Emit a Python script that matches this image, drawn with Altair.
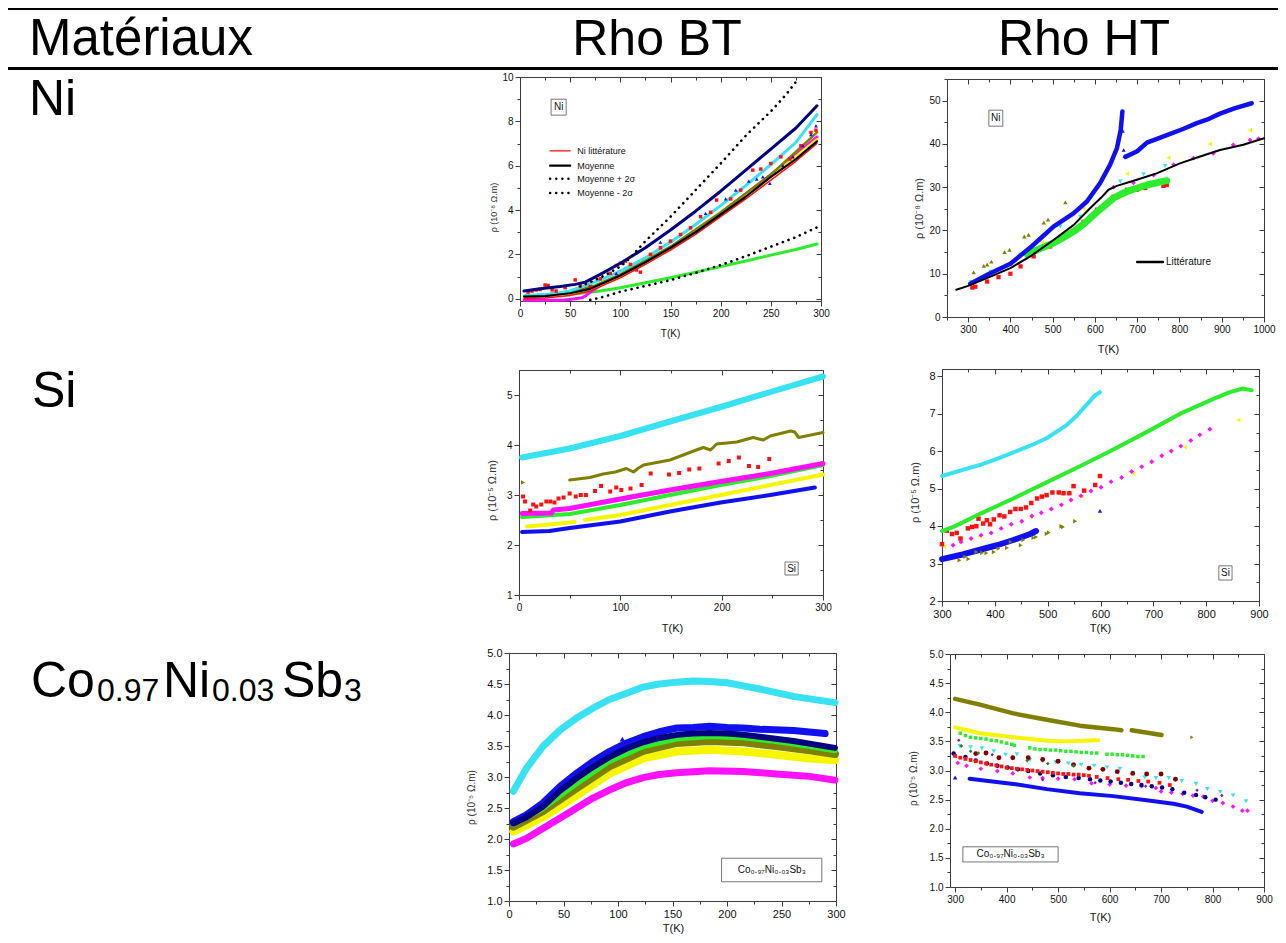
import altair as alt
import pandas as pd

# ===================== values =====================
HEADERS = ["Matériaux", "Rho BT", "Rho HT"]
ROW_LABELS = ["Ni", "Si"]
CO_PARTS = ["Co", "0.97", "Ni", "0.03", "Sb", "3"]
X_TITLE = "T(K)"
Y_TITLE_8 = "ρ (10⁻⁸ Ω.m)"
Y_TITLE_5 = "ρ (10⁻⁵ Ω.m)"
NI_BT_LEGEND = ["Ni littérature", "Moyenne", "Moyenne + 2σ", "Moyenne - 2σ"]
NI_HT_LEGEND = "Littérature"
CO_TAG = "Co₀.₉₇Ni₀.₀₃Sb₃"

# ---- Ni, Rho BT ----
NIBT_GREEN_T = [45, 60, 80, 100, 125, 150, 175, 200, 225, 250, 275, 296]
NIBT_GREEN_R = [0.2, 0.25, 0.35, 0.5, 0.72, 0.95, 1.2, 1.45, 1.7, 1.97, 2.22, 2.47]
NIBT_MAG_T = [4, 15, 30, 45, 55, 62, 66, 70, 80, 100, 150, 200, 250, 296]
NIBT_MAG_R = [-0.07, -0.07, -0.07, -0.05, 0.0, 0.05, 0.15, 0.3, 0.6, 1.05, 2.3, 3.85, 5.6, 7.3]
NIBT_YO_T = [4, 50, 75, 100, 150, 200, 250, 296]
NIBT_YEL_R = [0.05, 0.25, 0.5, 1.0, 2.25, 3.8, 5.5, 7.2]
NIBT_OLIVE_R = [0.12, 0.3, 0.6, 1.1, 2.35, 3.9, 5.6, 7.5]
NIBT_CYAN_T = [5, 30, 50, 65, 80, 100, 125, 150, 175, 200, 225, 250, 275, 296]
NIBT_CYAN_R = [0.15, 0.2, 0.35, 0.6, 0.85, 1.25, 1.85, 2.55, 3.35, 4.2, 5.1, 6.05, 7.05, 8.3]
NIBT_RED_T = [8, 12, 16, 20, 25, 28, 32, 36, 45, 55, 60, 70, 80, 90, 96, 100, 105, 110, 116, 120,
              130, 140, 150, 160, 170, 180, 190, 196, 210, 220, 232, 240, 250, 260, 269, 280, 290, 295]
NIBT_RED_R = [0.3, 0.35, 0.4, 0.42, 0.62, 0.6, 0.4, 0.35, 0.5, 0.85, 0.6, 0.55, 0.9, 1.15, 1.5, 1.6, 1.7, 1.55, 1.3, 1.2,
              2.0, 2.3, 2.6, 2.9, 3.2, 3.7, 3.9, 4.45, 4.5, 4.9, 5.8, 5.85, 6.1, 6.4, 6.3, 6.9, 7.5, 7.6]
NIBT_BLUE_T = [96, 140, 185, 205, 215, 228, 236, 242, 249, 262, 272, 282, 290, 295]
NIBT_BLUE_R = [1.15, 2.55, 3.85, 4.5, 4.9, 5.3, 5.4, 5.5, 5.2, 6.0, 6.4, 6.9, 7.4, 7.8]
NIBT_NAVY_T = [4, 20, 40, 55, 65, 80, 100, 125, 150, 175, 200, 225, 250, 275, 296]
NIBT_NAVY_R = [0.35, 0.45, 0.55, 0.65, 0.75, 1.1, 1.6, 2.3, 3.1, 3.95, 4.85, 5.8, 6.75, 7.7, 8.7]
NIBT_AVG_T = [4, 25, 50, 70, 85, 100, 125, 150, 175, 200, 225, 250, 275, 296]
NIBT_LIT_R = [0.0, 0.03, 0.15, 0.35, 0.65, 0.95, 1.55, 2.2, 2.9, 3.7, 4.5, 5.35, 6.2, 7.0]
NIBT_AVG_R = [0.1, 0.12, 0.25, 0.45, 0.75, 1.05, 1.65, 2.3, 3.0, 3.8, 4.6, 5.5, 6.3, 7.1]
NIBT_PLUS_T = [60, 70, 80, 90, 100, 110, 125, 150, 175, 200, 226, 250, 265, 278]
NIBT_PLUS_R = [0.55, 0.75, 0.95, 1.2, 1.45, 1.85, 2.6, 3.7, 4.9, 6.1, 7.4, 8.45, 9.2, 9.95]
NIBT_MINUS_T = [70, 80, 90, 100, 125, 150, 175, 200, 225, 250, 275, 296]
NIBT_MINUS_R = [-0.05, 0.05, 0.18, 0.32, 0.58, 0.84, 1.17, 1.52, 1.92, 2.35, 2.78, 3.22]

# ---- Ni, Rho HT ----
NIHT_RED_T = [310, 317, 345, 372, 400, 424, 455, 494, 534, 573, 605, 644, 676, 699, 719, 762, 770]
NIHT_RED_R = [6.8, 7.0, 8.2, 9.2, 10.0, 11.7, 14.0, 16.3, 19.0, 22.0, 24.8, 27.8, 29.4, 29.4, 29.8, 30.3, 30.5]
NIHT_GREEN_T = [440, 470, 502, 530, 550, 575, 597, 620, 644, 660, 676, 700, 723, 745, 770]
NIHT_GREEN_R = [14.5, 15.8, 17.1, 18.6, 19.8, 21.6, 23.6, 25.5, 27.5, 28.3, 29.0, 29.8, 30.5, 31.0, 31.5]
NIHT_CYAN_T = [307, 353, 424, 471, 518, 565, 660, 715, 766]
NIHT_CYAN_R = [8.1, 10.5, 14.4, 17.7, 20.9, 23.2, 31.3, 33.0, 34.9]
NIHT_YEL_T = [313, 390, 475, 573, 676, 774, 872, 967]
NIHT_YEL_R = [8.3, 11.7, 17.3, 25.0, 33.1, 36.8, 40.0, 43.2]
NIHT_OLIVE_T = [313, 337, 345, 355, 386, 398, 433, 443, 479, 489, 530]
NIHT_OLIVE_R = [10.3, 11.8, 12.1, 12.8, 15.0, 15.5, 18.6, 19.0, 21.8, 22.5, 26.5]
NIHT_MAG_T = [644, 691, 739, 786, 833, 880, 927, 967, 987]
NIHT_MAG_R = [30.0, 31.0, 32.8, 35.2, 36.7, 37.8, 39.8, 40.9, 41.2]
NIHT_BLUE1_T = [305, 350, 400, 450, 502, 550, 581, 612, 636, 652, 661, 665]
NIHT_BLUE1_R = [7.7, 10.0, 12.3, 16.3, 20.9, 24.0, 26.7, 30.9, 35.2, 39.0, 43.2, 47.5]
NIHT_BLUEJ_T = [666, 668, 670]
NIHT_BLUEJ_R = [43.0, 38.6, 37.2]
NIHT_BLUE2_T = [672, 700, 723, 750, 778, 810, 841, 870, 896, 930, 971]
NIHT_BLUE2_R = [37.0, 38.3, 40.3, 41.3, 42.3, 43.5, 44.8, 45.8, 47.0, 48.2, 49.4]
NIHT_LIT_T = [272, 300, 350, 400, 450, 502, 550, 589, 615, 632, 652, 699, 746, 801, 849, 896, 951, 1000]
NIHT_LIT_R = [6.3, 7.2, 9.2, 11.3, 14.2, 17.8, 21.3, 25.2, 27.6, 29.4, 30.3, 31.7, 33.2, 35.5, 37.1, 38.6, 39.8, 41.3]

# ---- Si, Rho BT ----
SIBT_BLUE_T = [3, 30, 50, 100, 149, 199, 248, 292]
SIBT_BLUE_R = [2.26, 2.28, 2.34, 2.47, 2.67, 2.85, 3.0, 3.15]
SIBT_YEL1_T = [8, 30, 55]
SIBT_YEL1_R = [2.37, 2.41, 2.46]
SIBT_YEL2_T = [65, 100, 149, 199, 248, 300]
SIBT_YEL2_R = [2.5, 2.6, 2.8, 3.0, 3.2, 3.41]
SIBT_GREEN_T = [3, 50, 100, 149, 199, 248, 300]
SIBT_GREEN_R = [2.56, 2.62, 2.8, 3.0, 3.2, 3.38, 3.6]
SIBT_MAG_T = [3, 32, 34, 50, 100, 149, 199, 248, 300]
SIBT_MAG_R = [2.63, 2.64, 2.7, 2.73, 2.92, 3.1, 3.27, 3.43, 3.63]
SIBT_RED_T = [4, 6, 11, 14, 17, 22, 27, 31, 35, 39, 44, 50, 56, 61, 66, 75, 81, 90, 96, 101,
              110, 121, 130, 148, 158, 168, 178, 197, 207, 217, 227, 236, 247]
SIBT_RED_R = [2.97, 2.87, 2.69, 2.81, 2.77, 2.81, 2.87, 2.87, 2.85, 2.93, 2.95, 3.03, 2.97, 3.0, 3.0, 3.08, 3.18, 3.07, 3.15, 3.1,
              3.13, 3.2, 3.43, 3.41, 3.44, 3.51, 3.53, 3.63, 3.68, 3.75, 3.58, 3.56, 3.72]
SIBT_OLIVE0_T = [4]
SIBT_OLIVE0_R = [3.25]
SIBT_OLIVE_T = [50, 70, 83, 95, 106, 113, 118, 123, 149, 175, 182, 189, 195, 215, 231, 241, 248, 268, 272, 276, 300]
SIBT_OLIVE_R = [3.3, 3.35, 3.42, 3.46, 3.53, 3.46, 3.54, 3.6, 3.7, 3.9, 3.95, 3.9, 4.02, 4.06, 4.15, 4.1, 4.18, 4.28, 4.26, 4.15, 4.25]
SIBT_CYAN_T = [3, 50, 100, 149, 199, 248, 300]
SIBT_CYAN_R = [3.75, 3.93, 4.18, 4.47, 4.76, 5.06, 5.37]

# ---- Si, Rho HT ----
SIHT_BLUE_T = [300, 341, 372, 404, 435, 467, 478]
SIHT_BLUE_R = [3.12, 3.25, 3.37, 3.49, 3.63, 3.79, 3.87]
SIHT_BLUE1_T = [599]
SIHT_BLUE1_R = [4.41]
SIHT_OLIVE_T = [333, 344, 350, 365, 376, 384, 398, 407, 423, 430, 449, 454, 473, 478, 498, 502, 526, 529, 552]
SIHT_OLIVE_R = [3.09, 3.18, 3.12, 3.31, 3.29, 3.28, 3.31, 3.4, 3.42, 3.58, 3.49, 3.63, 3.69, 3.71, 3.8, 3.83, 4.0, 3.98, 4.13]
SIHT_YEL_T = [304, 371, 468, 565, 662, 760, 861]
SIHT_YEL_R = [3.45, 3.73, 4.25, 4.8, 5.41, 6.11, 6.84]
SIHT_MAG_T = [321, 336, 355, 374, 393, 412, 431, 451, 470, 488, 507, 526, 544, 563, 582, 601, 620, 640, 659, 678,
              697, 716, 734, 752, 771, 788, 807]
SIHT_MAG_R = [3.49, 3.58, 3.67, 3.76, 3.82, 3.94, 4.05, 4.13, 4.27, 4.36, 4.46, 4.57, 4.7, 4.81, 4.94, 5.04, 5.19, 5.3, 5.46, 5.59,
              5.72, 5.88, 6.01, 6.14, 6.29, 6.44, 6.59]
SIHT_RED_T = [300, 309, 319, 328, 335, 349, 357, 365, 369, 378, 385, 391, 398, 409, 418, 429, 439, 449, 459, 469,
              480, 489, 498, 509, 521, 530, 541, 549, 569, 590, 599]
SIHT_RED_R = [3.52, 3.88, 3.79, 3.82, 3.67, 3.94, 3.98, 4.0, 4.2, 4.07, 4.16, 4.05, 4.18, 4.29, 4.26, 4.38, 4.46, 4.46, 4.5, 4.62,
              4.74, 4.79, 4.83, 4.9, 4.9, 4.88, 4.88, 5.07, 4.95, 5.1, 5.34]
SIHT_GREEN_T = [300, 325, 372, 435, 473, 498, 561, 618, 688, 750, 814, 845, 870, 886]
SIHT_GREEN_R = [3.87, 4.0, 4.33, 4.74, 5.0, 5.17, 5.6, 6.0, 6.52, 7.0, 7.4, 7.58, 7.68, 7.63]
SIHT_CYAN_T = [300, 336, 372, 404, 435, 467, 498, 536, 555, 574, 590, 599]
SIHT_CYAN_R = [5.34, 5.49, 5.64, 5.8, 5.97, 6.15, 6.35, 6.7, 6.95, 7.25, 7.5, 7.58]

# ---- Co0.97Ni0.03Sb3, Rho BT ----
COBT_T11 = [4, 31, 62, 92, 123, 154, 184, 215, 245, 276, 299]
COBT_YEL_R = [2.12, 2.35, 2.7, 3.05, 3.3, 3.41, 3.44, 3.41, 3.36, 3.3, 3.27]
COBT_OLIVE_R = [2.2, 2.45, 2.82, 3.17, 3.42, 3.55, 3.58, 3.56, 3.5, 3.43, 3.37]
COBT_GREEN_R = [2.24, 2.5, 2.9, 3.26, 3.5, 3.62, 3.66, 3.64, 3.58, 3.5, 3.43]
COBT_RED_T = [4, 31, 62, 92, 123]
COBT_RED_R = [2.18, 2.42, 2.78, 3.12, 3.37]
COBT_BLUE_T = [4, 16, 31, 47, 62, 77, 92, 108, 123, 138, 154, 169, 184, 200, 215, 230, 261, 290]
COBT_BLUE_R = [2.28, 2.39, 2.58, 2.85, 3.06, 3.25, 3.41, 3.55, 3.65, 3.73, 3.79, 3.8, 3.82, 3.8, 3.79, 3.77, 3.75, 3.7]
COBT_BLUE1_T = [104]
COBT_BLUE1_R = [3.61]
COBT_NAVY_T = [4, 16, 31, 47, 62, 77, 92, 108, 123, 138, 154, 169, 184, 200, 215, 230, 261, 299]
COBT_NAVY_R = [2.25, 2.35, 2.52, 2.78, 2.98, 3.16, 3.32, 3.46, 3.56, 3.63, 3.68, 3.7, 3.71, 3.7, 3.68, 3.65, 3.58, 3.47]
COBT_MAG_T = [4, 16, 31, 47, 62, 77, 92, 108, 123, 138, 154, 184, 215, 245, 276, 299]
COBT_MAG_R = [1.92, 2.01, 2.17, 2.34, 2.5, 2.66, 2.79, 2.91, 2.99, 3.04, 3.07, 3.1, 3.09, 3.05, 3.01, 2.95]
COBT_CYAN_T = [4, 16, 31, 47, 62, 77, 92, 108, 123, 138, 154, 169, 184, 200, 215, 230, 245, 261, 276, 299]
COBT_CYAN_R = [2.77, 3.14, 3.49, 3.76, 3.95, 4.11, 4.25, 4.35, 4.45, 4.5, 4.53, 4.55, 4.54, 4.52, 4.47, 4.42, 4.36, 4.3, 4.26, 4.2]

# ---- Co0.97Ni0.03Sb3, Rho HT ----
COHT_BLUE0_T = [300]
COHT_BLUE0_R = [2.88]
COHT_BLUE_T = [328, 413, 478, 542, 607, 672, 724, 750, 779]
COHT_BLUE_R = [2.86, 2.77, 2.68, 2.61, 2.56, 2.49, 2.43, 2.38, 2.29]
COHT_MAG_T = [305, 322, 350, 382, 412, 445, 470, 500, 532, 565, 600, 632, 662, 690, 700, 720, 742, 762, 782, 800, 820, 840, 858, 868]
COHT_MAG_R = [3.13, 3.08, 3.03, 2.99, 2.95, 2.88, 2.87, 2.86, 2.85, 2.78, 2.76, 2.74, 2.73, 2.7, 2.64, 2.62, 2.6, 2.57, 2.55, 2.48, 2.44, 2.38, 2.31, 2.31]
COHT_NAVY_T = [297, 320, 340, 362, 382, 402, 422, 442, 465, 490, 515, 540, 562, 582, 602, 622, 642, 662, 682, 702, 722, 745, 768, 786, 806]
COHT_NAVY_R = [3.29, 3.23, 3.17, 3.12, 3.08, 3.05, 3.02, 2.99, 2.95, 2.92, 2.89, 2.87, 2.85, 2.83, 2.81, 2.79, 2.77, 2.75, 2.73, 2.71, 2.68, 2.62, 2.58, 2.54, 2.5]
COHT_RED_T = [300, 310, 320, 330, 340, 350, 360, 370, 380, 390, 400, 410, 420, 430, 440, 450, 460, 470, 480, 490,
              500, 510, 520, 530, 540, 550, 560, 575, 596, 617, 636, 656, 675, 697, 717]
COHT_RED_R = [3.25, 3.22, 3.2, 3.18, 3.16, 3.14, 3.12, 3.1, 3.09, 3.07, 3.05, 3.04, 3.03, 3.02, 3.01, 3.0, 2.99, 2.98, 2.97, 2.96,
              2.95, 2.94, 2.94, 2.93, 2.93, 2.92, 2.91, 2.89, 2.87, 2.85, 2.84, 2.82, 2.81, 2.79, 2.75]
COHT_CYAN_T = [309, 330, 352, 375, 398, 420, 445, 470, 495, 520, 545, 570, 595, 620, 645, 668, 690, 715, 740, 768, 790, 815, 840, 865]
COHT_CYAN_R = [3.42, 3.4, 3.38, 3.33, 3.27, 3.28, 3.18, 3.16, 3.14, 3.12, 3.1, 3.08, 3.05, 3.03, 2.96, 2.88, 2.87, 2.87, 2.82, 2.77, 2.68, 2.63, 2.57, 2.47]
COHT_WINE_T = [340, 360, 385, 412, 442, 470, 500, 530, 560, 587, 615, 645, 672, 700, 728]
COHT_WINE_R = [3.29, 3.3, 3.22, 3.22, 3.22, 3.19, 3.16, 3.1, 3.04, 3.02, 2.98, 2.95, 2.94, 2.94, 2.85]
COHT_DKG_T = [312, 330, 345, 440, 480, 530]
COHT_DKG_R = [3.42, 3.33, 3.3, 3.17, 3.12, 3.08]
COHT_VIO_T = [307, 372, 470, 572, 670, 770, 818]
COHT_VIO_R = [3.52, 3.27, 2.84, 2.79, 2.73, 2.66, 2.57]
COHT_GREEN_T = [310, 320, 330, 340, 350, 360, 370, 380, 390, 400, 410, 415, 445, 455, 465, 475, 485, 495, 505, 515,
                525, 535, 545, 555, 565, 575, 595, 605, 615, 625, 635, 645, 655, 665]
COHT_GREEN_R = [3.64, 3.6, 3.57, 3.56, 3.55, 3.54, 3.52, 3.51, 3.49, 3.47, 3.45, 3.43, 3.39, 3.37, 3.36, 3.36, 3.35, 3.35, 3.34, 3.33,
                3.33, 3.32, 3.31, 3.31, 3.3, 3.3, 3.28, 3.28, 3.27, 3.27, 3.26, 3.25, 3.24, 3.24]
COHT_YEL_T = [300, 348, 413, 478, 516, 578]
COHT_YEL_R = [3.74, 3.64, 3.57, 3.51, 3.5, 3.52]
COHT_OLIVE1_T = [300, 348, 413, 478, 542, 607, 623]
COHT_OLIVE1_R = [4.23, 4.13, 3.98, 3.87, 3.77, 3.71, 3.69]
COHT_OLIVE2_T = [643, 701]
COHT_OLIVE2_R = [3.69, 3.61]
COHT_OLIVE3_T = [760]
COHT_OLIVE3_R = [3.57]

# ===================== layout & style =====================
W, H, M = 1270, 926, 8          # chart size, page margin
FONT = "Liberation Sans"
AXC = "#3c3c3c"
RED, BLUE, NAVY, CYAN = "#ff1010", "#1010f0", "#000080", "#38e2f2"
GREEN, MAG, YEL, OLIVE = "#2cec2c", "#ff10ff", "#f6f600", "#808000"
WINE, VIO, DKG = "#800000", "#7a1fb0", "#2f7d2f"
DUMMY = pd.DataFrame({"k": [0]})


def ticks(lo, hi, step):
    vals, k = [], 0
    while lo + k * step <= hi + 1e-9:
        vals.append(round(lo + k * step, 6))
        k += 1
    return vals


def is_major(step):
    return f"abs(datum.value / {step} - round(datum.value / {step})) < 0.000001"


def xaxis(g, main):
    t = is_major(g["xmaj"])
    kw = dict(orient="bottom", values=ticks(*g["xt"]), grid=False,
              domainColor=AXC, domainWidth=1, tickColor=AXC, tickWidth=1,
              tickSize={"condition": {"test": t, "value": 5}, "value": 3})
    if main:
        kw.update(offset=(g["y0"] - M) - H, format=g["xfmt"],
                  labelExpr=f"{t} ? datum.label : ''", labelOverlap=False, labelFlush=False,
                  labelFont=FONT, labelFontSize=g["lfs"], labelColor="#111", labelPadding=2,
                  title=X_TITLE, titleFont=FONT, titleFontSize=g["tfs"], titleFontWeight="normal",
                  titleColor="#111", titleX=g["xtx"] - M, titleY=g["xty"] - g["y0"],
                  titleBaseline="middle", titleAlign="center")
    else:
        kw.update(offset=(g["y1"] - M) - H, labels=False, title="")
    return alt.Axis(**kw)


def yaxis(g, main):
    t = is_major(g["ymaj"])
    kw = dict(orient="left", values=ticks(*g["yt"]), grid=False,
              domainColor=AXC, domainWidth=1, tickColor=AXC, tickWidth=1,
              tickSize={"condition": {"test": t, "value": 5}, "value": 3})
    if main:
        kw.update(offset=-(g["x0"] - M), format=g["yfmt"],
                  labelExpr=f"{t} ? datum.label : ''", labelOverlap=False, labelFlush=False,
                  labelFont=FONT, labelFontSize=g["lfs"], labelColor="#111", labelPadding=2,
                  title=g["ytitle"], titleFont=FONT, titleFontSize=g["ytfs"], titleFontWeight="normal",
                  titleColor="#333", titleX=g["ytx"] - g["x0"], titleY=g["yty"] - M,
                  titleBaseline="middle", titleAlign="center", titleAngle=270)
    else:
        kw.update(offset=-(g["x1"] - M), labels=False, title="")
    return alt.Axis(**kw)


def ln(T, R, color, w, dash=None):
    st = dict(color=color, strokeWidth=w)
    if dash:
        st["strokeDash"] = dash
    return ("line", T, R, st)


def pt(T, R, color, shape, size):
    return ("pt", T, R, dict(color=color, shape=shape, size=size))


def note_box(x0, x1, y0, y1):
    def f(xs, ys):
        return alt.Chart(DUMMY).mark_rect(fill="white", stroke="#555", strokeWidth=0.8).encode(
            x=alt.XDatum(datum=x0, type="quantitative", scale=xs, axis=None), x2=alt.X2Datum(datum=x1),
            y=alt.YDatum(datum=y0, type="quantitative", scale=ys, axis=None), y2=alt.Y2Datum(datum=y1))
    return f


def note_text(x, y, s, fs, align="center"):
    def f(xs, ys):
        return alt.Chart(DUMMY).mark_text(text=s, font=FONT, fontSize=fs, align=align,
                                          baseline="middle", color="#111").encode(
            x=alt.XDatum(datum=x, type="quantitative", scale=xs, axis=None),
            y=alt.YDatum(datum=y, type="quantitative", scale=ys, axis=None))
    return f


def note_rule(x0, x1, y, color, w, dash=None):
    def f(xs, ys):
        st = dict(color=color, strokeWidth=w, strokeCap="round")
        if dash:
            st["strokeDash"] = dash
        return alt.Chart(DUMMY).mark_rule(**st).encode(
            x=alt.XDatum(datum=x0, type="quantitative", scale=xs, axis=None), x2=alt.X2Datum(datum=x1),
            y=alt.YDatum(datum=y, type="quantitative", scale=ys, axis=None))
    return f


def build(g, series, notes):
    """One panel: data layers (no axes), one invisible layer carrying the
    labelled bottom/left axes and one carrying the top/right frame axes."""
    def scales():
        xs = alt.Scale(domain=g["xdom"], range=[g["x0"] - M, g["x1"] - M], nice=False, zero=False)
        ys = alt.Scale(domain=g["ydom"], range=[g["y0"] - M, g["y1"] - M], nice=False, zero=False)
        return xs, ys
    xs, ys = scales()
    layers = []
    first_df = None
    for kind, T, R, st in series:
        df = pd.DataFrame({"T": T, "rho": R})
        if first_df is None:
            first_df = df
        if kind == "line":
            mk = alt.Chart(df).mark_line(strokeCap="round", strokeJoin="round", **st)
        else:
            mk = alt.Chart(df).mark_point(filled=True, opacity=1, strokeWidth=0, **st)
        layers.append(mk.encode(x=alt.X("T:Q", scale=xs, axis=None),
                                y=alt.Y("rho:Q", scale=ys, axis=None)))
    for n in notes:
        layers.append(n(xs, ys))
    xs2, ys2 = scales()
    main_axes = alt.Chart(first_df).mark_point(opacity=0).encode(
        x=alt.X("T:Q", scale=xs2, axis=xaxis(g, True)),
        y=alt.Y("rho:Q", scale=ys2, axis=yaxis(g, True)))
    xs3, ys3 = scales()
    frame_axes = alt.Chart(first_df).mark_point(opacity=0).encode(
        x=alt.X("T:Q", scale=xs3, axis=xaxis(g, False)),
        y=alt.Y("rho:Q", scale=ys3, axis=yaxis(g, False)))
    return [alt.layer(*layers), main_axes, frame_axes]


G_NIBT = dict(x0=520, x1=821, y0=301, y1=77, xdom=[0, 300], ydom=[-0.1, 10], xt=(0, 300, 25), xmaj=50,
              yt=(0, 10, 1), ymaj=2, xfmt="d", yfmt="d", lfs=10, tfs=10, ytitle=Y_TITLE_8, ytfs=9,
              xtx=670, xty=333, ytx=493, yty=207)
G_NIHT = dict(x0=947, x1=1264, y0=317, y1=79, xdom=[250, 1000], ydom=[0, 55], xt=(250, 1000, 50), xmaj=100,
              yt=(0, 55, 5), ymaj=10, xfmt="d", yfmt="d", lfs=10, tfs=11, ytitle=Y_TITLE_8, ytfs=11,
              xtx=1108, xty=349, ytx=919, yty=208)
G_SIBT = dict(x0=519, x1=823, y0=595, y1=370, xdom=[0, 300], ydom=[1, 5.5], xt=(0, 300, 50), xmaj=100,
              yt=(1, 5.5, 0.5), ymaj=1, xfmt="d", yfmt="d", lfs=10, tfs=11, ytitle=Y_TITLE_5, ytfs=11,
              xtx=672, xty=628, ytx=492, yty=490)
G_SIHT = dict(x0=942, x1=1259, y0=601, y1=369, xdom=[300, 900], ydom=[2, 8.2], xt=(300, 900, 50), xmaj=100,
              yt=(2, 8, 0.5), ymaj=1, xfmt="d", yfmt="d", lfs=11, tfs=11, ytitle=Y_TITLE_5, ytfs=11,
              xtx=1100, xty=628, ytx=915, yty=492)
G_COBT = dict(x0=509, x1=836, y0=901, y1=653, xdom=[0, 300], ydom=[1, 5], xt=(0, 300, 25), xmaj=50,
              yt=(1, 5, 0.25), ymaj=0.5, xfmt="d", yfmt=".1f", lfs=11, tfs=11, ytitle=Y_TITLE_5, ytfs=10,
              xtx=673, xty=928, ytx=471, yty=797)
G_COHT = dict(x0=950, x1=1264, y0=887, y1=654, xdom=[290, 900], ydom=[1, 5], xt=(300, 900, 50), xmaj=100,
              yt=(1, 5, 0.25), ymaj=0.5, xfmt="d", yfmt=".1f", lfs=10, tfs=11, ytitle=Y_TITLE_5, ytfs=10,
              xtx=1100, xty=917, ytx=913, yty=778)

DOT = [0.1, 6]

ni_bt = build(G_NIBT, [
    ln(NIBT_GREEN_T, NIBT_GREEN_R, GREEN, 3),
    ln(NIBT_MAG_T, NIBT_MAG_R, MAG, 3),
    ln(NIBT_YO_T, NIBT_YEL_R, YEL, 2.5),
    ln(NIBT_YO_T, NIBT_OLIVE_R, OLIVE, 2.5),
    ln(NIBT_CYAN_T, NIBT_CYAN_R, CYAN, 3),
    pt(NIBT_RED_T, NIBT_RED_R, RED, "square", 12),
    pt(NIBT_BLUE_T, NIBT_BLUE_R, BLUE, "triangle-up", 14),
    ln(NIBT_NAVY_T, NIBT_NAVY_R, NAVY, 3),
    ln(NIBT_AVG_T, NIBT_LIT_R, RED, 1.5),
    ln(NIBT_AVG_T, NIBT_AVG_R, "#000000", 2.2),
    ln(NIBT_PLUS_T, NIBT_PLUS_R, "#000000", 2.6, DOT),
    ln(NIBT_MINUS_T, NIBT_MINUS_R, "#000000", 2.6, DOT),
], [
    note_box(31, 46, 8.28, 9.0), note_text(38.5, 8.64, ROW_LABELS[0], 10),
    note_rule(30, 50, 6.67, RED, 1.3), note_text(57, 6.67, NI_BT_LEGEND[0], 9, "left"),
    note_rule(30, 50, 6.0, "#000000", 2.2), note_text(57, 6.0, NI_BT_LEGEND[1], 9, "left"),
    note_rule(30, 50, 5.41, "#000000", 2.4, DOT), note_text(57, 5.41, NI_BT_LEGEND[2], 9, "left"),
    note_rule(30, 50, 4.77, "#000000", 2.4, DOT), note_text(57, 4.77, NI_BT_LEGEND[3], 9, "left"),
])

ni_ht = build(G_NIHT, [
    pt(NIHT_RED_T, NIHT_RED_R, RED, "square", 18),
    ln(NIHT_GREEN_T, NIHT_GREEN_R, GREEN, 7),
    pt(NIHT_CYAN_T, NIHT_CYAN_R, CYAN, "triangle-down", 20),
    pt(NIHT_YEL_T, NIHT_YEL_R, YEL, "triangle-left", 22),
    pt(NIHT_OLIVE_T, NIHT_OLIVE_R, OLIVE, "triangle-up", 20),
    pt(NIHT_MAG_T, NIHT_MAG_R, MAG, "diamond", 22),
    ln(NIHT_BLUE1_T, NIHT_BLUE1_R, BLUE, 4.5),
    pt(NIHT_BLUEJ_T, NIHT_BLUEJ_R, BLUE, "triangle-up", 16),
    ln(NIHT_BLUE2_T, NIHT_BLUE2_R, BLUE, 4.5),
    ln(NIHT_LIT_T, NIHT_LIT_R, "#000000", 2),
], [
    note_box(349, 382, 44.1, 47.8), note_text(365.5, 46.0, ROW_LABELS[0], 10),
    note_rule(700, 761, 12.7, "#000000", 2.5), note_text(768, 12.7, NI_HT_LEGEND, 10, "left"),
])

si_bt = build(G_SIBT, [
    ln(SIBT_BLUE_T, SIBT_BLUE_R, BLUE, 4),
    ln(SIBT_YEL1_T, SIBT_YEL1_R, YEL, 4),
    ln(SIBT_YEL2_T, SIBT_YEL2_R, YEL, 4),
    ln(SIBT_GREEN_T, SIBT_GREEN_R, GREEN, 4),
    ln(SIBT_MAG_T, SIBT_MAG_R, MAG, 5),
    pt(SIBT_RED_T, SIBT_RED_R, RED, "square", 16),
    pt(SIBT_OLIVE0_T, SIBT_OLIVE0_R, OLIVE, "triangle-right", 22),
    ln(SIBT_OLIVE_T, SIBT_OLIVE_R, OLIVE, 3),
    ln(SIBT_CYAN_T, SIBT_CYAN_R, CYAN, 6),
], [
    note_box(262.5, 275.5, 1.4, 1.66), note_text(269, 1.53, ROW_LABELS[1], 10),
])

si_ht = build(G_SIHT, [
    ln(SIHT_BLUE_T, SIHT_BLUE_R, BLUE, 6),
    pt(SIHT_BLUE1_T, SIHT_BLUE1_R, BLUE, "triangle-up", 20),
    pt(SIHT_OLIVE_T, SIHT_OLIVE_R, OLIVE, "triangle-right", 20),
    pt(SIHT_YEL_T, SIHT_YEL_R, YEL, "triangle-left", 22),
    pt(SIHT_MAG_T, SIHT_MAG_R, MAG, "diamond", 24),
    pt(SIHT_RED_T, SIHT_RED_R, RED, "square", 20),
    ln(SIHT_GREEN_T, SIHT_GREEN_R, GREEN, 4),
    ln(SIHT_CYAN_T, SIHT_CYAN_R, CYAN, 4),
], [
    note_box(824, 849, 2.56, 2.94), note_text(836.5, 2.75, ROW_LABELS[1], 10),
])

co_bt = build(G_COBT, [
    ln(COBT_RED_T, COBT_RED_R, RED, 5),
    ln(COBT_T11, COBT_YEL_R, YEL, 8),
    ln(COBT_T11, COBT_OLIVE_R, OLIVE, 8),
    ln(COBT_T11, COBT_GREEN_R, GREEN, 6),
    ln(COBT_BLUE_T, COBT_BLUE_R, BLUE, 7),
    pt(COBT_BLUE1_T, COBT_BLUE1_R, BLUE, "triangle-up", 30),
    ln(COBT_NAVY_T, COBT_NAVY_R, NAVY, 6),
    ln(COBT_MAG_T, COBT_MAG_R, MAG, 7),
    ln(COBT_CYAN_T, COBT_CYAN_R, CYAN, 7),
], [
    note_box(195, 287, 1.31, 1.69), note_text(241, 1.5, CO_TAG, 10),
])

co_ht = build(G_COHT, [
    pt(COHT_BLUE0_T, COHT_BLUE0_R, BLUE, "triangle-up", 20),
    ln(COHT_BLUE_T, COHT_BLUE_R, BLUE, 4),
    pt(COHT_MAG_T, COHT_MAG_R, MAG, "diamond", 22),
    pt(COHT_NAVY_T, COHT_NAVY_R, NAVY, "circle", 20),
    pt(COHT_RED_T, COHT_RED_R, RED, "square", 14),
    pt(COHT_CYAN_T, COHT_CYAN_R, CYAN, "triangle-down", 22),
    pt(COHT_WINE_T, COHT_WINE_R, WINE, "circle", 24),
    pt(COHT_DKG_T, COHT_DKG_R, DKG, "diamond", 14),
    pt(COHT_VIO_T, COHT_VIO_R, VIO, "diamond", 12),
    pt(COHT_GREEN_T, COHT_GREEN_R, GREEN, "square", 12),
    ln(COHT_YEL_T, COHT_YEL_R, YEL, 4),
    ln(COHT_OLIVE1_T, COHT_OLIVE1_R, OLIVE, 4.5),
    ln(COHT_OLIVE2_T, COHT_OLIVE2_R, OLIVE, 4.5),
    pt(COHT_OLIVE3_T, COHT_OLIVE3_R, OLIVE, "triangle-right", 14),
], [
    note_box(315, 500, 1.43, 1.69), note_text(407.5, 1.56, CO_TAG, 10),
])


# ---- table frame: header rules and texts (page coordinates minus margin) ----
def ptext(s, x, y, fs, align="left"):
    return alt.Chart(DUMMY).mark_text(text=s, font=FONT, fontSize=fs, align=align,
                                      baseline="alphabetic", color="#000000").encode(
        x=alt.value(x - M), y=alt.value(y - M))


def hrule(y, w):
    return alt.Chart(DUMMY).mark_rule(color="#000000", strokeWidth=w).encode(
        x=alt.value(0), x2=alt.value(W), y=alt.value(y))


CO_X = [31, 97, 163, 212, 282, 344]
decor = [
    hrule(1, 2), hrule(60.5, 3),
    ptext(HEADERS[0], 29, 55, 51), ptext(HEADERS[1], 657, 55, 50, "center"),
    ptext(HEADERS[2], 1084, 55, 50, "center"),
    ptext(ROW_LABELS[0], 29, 115, 50), ptext(ROW_LABELS[1], 32, 407, 50),
]
for i, part in enumerate(CO_PARTS):
    sub = i % 2 == 1
    decor.append(ptext(part, CO_X[i], 701 if sub else 697, 32 if sub else 50))

chart = alt.layer(*decor, *ni_bt, *ni_ht, *si_bt, *si_ht, *co_bt, *co_ht).resolve_scale(
    x="independent", y="independent").resolve_axis(x="independent", y="independent").properties(
    width=W, height=H, autosize=alt.AutoSizeParams(type="none"), padding=0).configure_view(strokeWidth=0)

chart.save("out.html", embed_options={"renderer": "svg", "actions": False})
